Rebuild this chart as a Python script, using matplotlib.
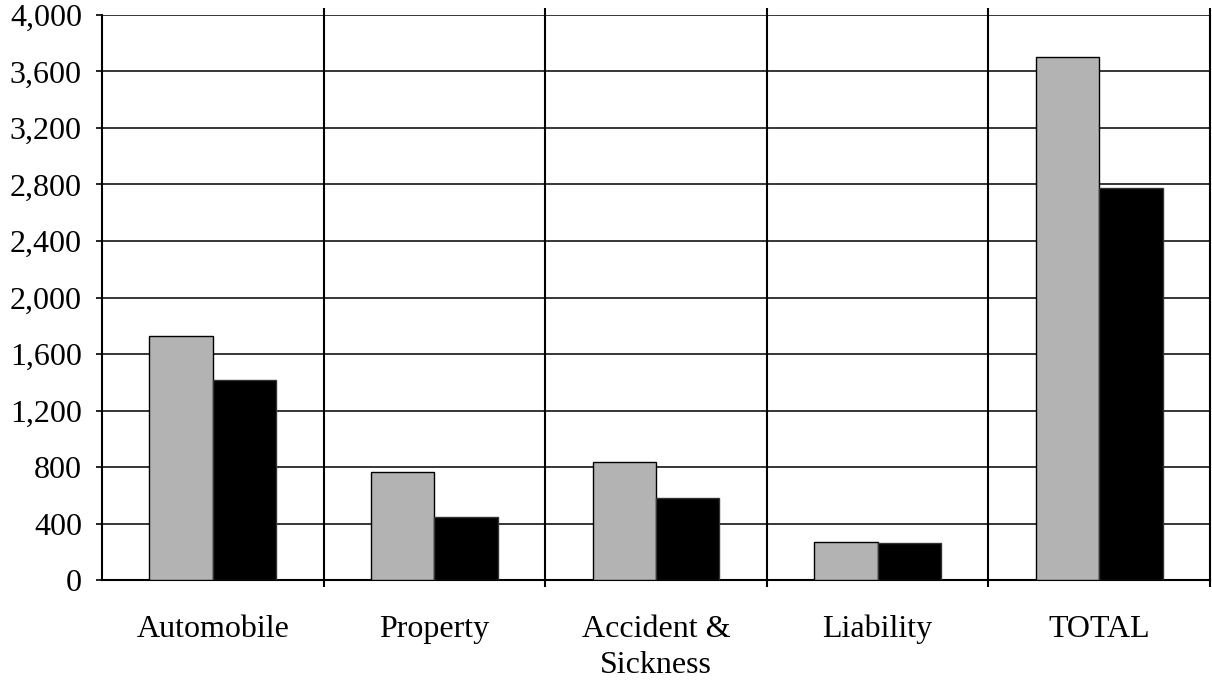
import numpy as np
import matplotlib.pyplot as plt

plt.rcParams['font.family'] = ['Liberation Serif', 'DejaVu Serif']

categories = ['Automobile', 'Property', 'Accident &\nSickness', 'Liability', 'TOTAL']
series_gray = [1730, 765, 835, 267, 3705]
series_black = [1418, 444, 583, 260, 2773]
yticks = np.arange(0, 4001, 400)

x = np.arange(len(categories))
w = 0.286

fig = plt.figure(figsize=(12.12, 6.8), dpi=100)
ax = fig.add_axes([0.0842, 0.147, 0.9141, 0.831])

ax.bar(x - w/2, series_gray, w, color='#b3b3b3', edgecolor='black', linewidth=1.0, zorder=3)
ax.bar(x + w/2, series_black, w, color='black', edgecolor='#333333', linewidth=1.0, zorder=3)

ax.set_xlim(-0.5, len(categories) - 0.5)
ax.set_ylim(0, 4000)
ax.set_yticks(yticks)
ax.set_yticklabels(['{:,}'.format(v) for v in yticks], fontsize=23)
ax.yaxis.grid(True, color='black', linewidth=1.1, zorder=0)
ax.set_axisbelow(True)

# category separators run past the plot top and bottom
ax.vlines(x + 0.5, -50, 4050, color='black', linewidth=1.5, clip_on=False, zorder=4)

ax.set_xticks(x)
ax.set_xticklabels(categories, fontsize=23, linespacing=1.35)
ax.tick_params(axis='x', length=0, pad=25)
ax.tick_params(axis='y', length=4, width=1.2, direction='out', pad=10.5)

for s in ['top', 'right']:
    ax.spines[s].set_visible(False)
ax.spines['left'].set_linewidth(1.5)
ax.spines['bottom'].set_linewidth(1.5)

plt.savefig('out.png', dpi=100)
